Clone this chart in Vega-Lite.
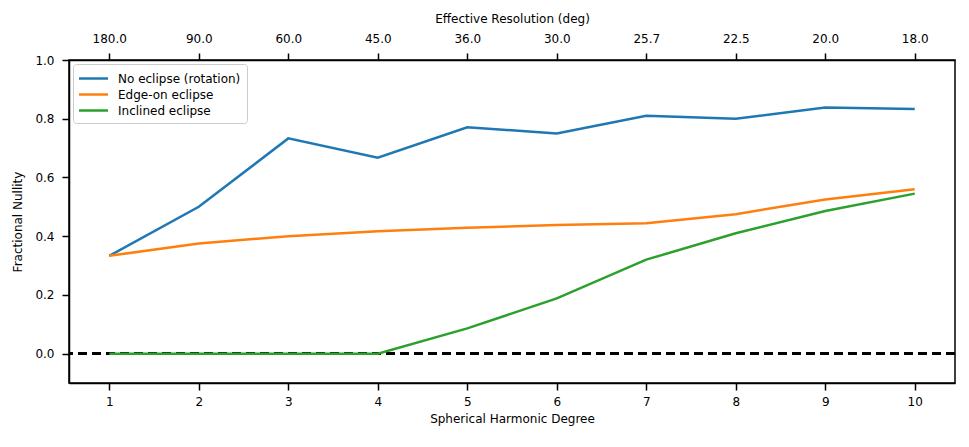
{
  "$schema": "https://vega.github.io/schema/vega-lite/v6.json",
  "width": 886,
  "height": 323,
  "autosize": "none",
  "padding": {"left": 69, "top": 60, "right": 14, "bottom": 64},
  "config": {
    "font": "DejaVu Sans",
    "view": {"stroke": "black", "strokeWidth": 1.5},
    "axis": {
      "labelFont": "DejaVu Sans", "titleFont": "DejaVu Sans",
      "labelFontSize": 12, "titleFontSize": 12, "titleFontWeight": "normal",
      "labelColor": "black", "titleColor": "black",
      "domainColor": "black", "domainWidth": 1.5,
      "tickColor": "black", "tickWidth": 1.5, "tickSize": 7,
      "grid": false, "labelPadding": 5
    }
  },
  "data": {
    "values": [
      {"degree": 1, "series": "No eclipse (rotation)", "nullity": 0.333},
      {"degree": 2, "series": "No eclipse (rotation)", "nullity": 0.5},
      {"degree": 3, "series": "No eclipse (rotation)", "nullity": 0.733},
      {"degree": 4, "series": "No eclipse (rotation)", "nullity": 0.667},
      {"degree": 5, "series": "No eclipse (rotation)", "nullity": 0.771},
      {"degree": 6, "series": "No eclipse (rotation)", "nullity": 0.75},
      {"degree": 7, "series": "No eclipse (rotation)", "nullity": 0.81},
      {"degree": 8, "series": "No eclipse (rotation)", "nullity": 0.8},
      {"degree": 9, "series": "No eclipse (rotation)", "nullity": 0.838},
      {"degree": 10, "series": "No eclipse (rotation)", "nullity": 0.833},
      {"degree": 1, "series": "Edge-on eclipse", "nullity": 0.333},
      {"degree": 2, "series": "Edge-on eclipse", "nullity": 0.375},
      {"degree": 3, "series": "Edge-on eclipse", "nullity": 0.4},
      {"degree": 4, "series": "Edge-on eclipse", "nullity": 0.417},
      {"degree": 5, "series": "Edge-on eclipse", "nullity": 0.429},
      {"degree": 6, "series": "Edge-on eclipse", "nullity": 0.438},
      {"degree": 7, "series": "Edge-on eclipse", "nullity": 0.444},
      {"degree": 8, "series": "Edge-on eclipse", "nullity": 0.475},
      {"degree": 9, "series": "Edge-on eclipse", "nullity": 0.525},
      {"degree": 10, "series": "Edge-on eclipse", "nullity": 0.56},
      {"degree": 1, "series": "Inclined eclipse", "nullity": 0},
      {"degree": 2, "series": "Inclined eclipse", "nullity": 0},
      {"degree": 3, "series": "Inclined eclipse", "nullity": 0},
      {"degree": 4, "series": "Inclined eclipse", "nullity": 0},
      {"degree": 5, "series": "Inclined eclipse", "nullity": 0.086},
      {"degree": 6, "series": "Inclined eclipse", "nullity": 0.188},
      {"degree": 7, "series": "Inclined eclipse", "nullity": 0.32},
      {"degree": 8, "series": "Inclined eclipse", "nullity": 0.41},
      {"degree": 9, "series": "Inclined eclipse", "nullity": 0.486},
      {"degree": 10, "series": "Inclined eclipse", "nullity": 0.545}
    ]
  },
  "layer": [
    {
      "mark": {"type": "rule", "color": "black", "strokeWidth": 2.5, "strokeDash": [9, 5]},
      "encoding": {"y": {"datum": 0, "type": "quantitative", "scale": {"domain": [-0.1, 1.0]}}}
    },
    {
      "mark": {"type": "line", "strokeWidth": 2.5, "clip": true},
      "encoding": {
        "x": {
          "field": "degree", "type": "quantitative",
          "scale": {"domain": [0.55, 10.45], "nice": false, "zero": false},
          "axis": {"values": [1,2,3,4,5,6,7,8,9,10], "title": "Spherical Harmonic Degree", "titlePadding": 6, "labelPadding": 6}
        },
        "y": {
          "field": "nullity", "type": "quantitative",
          "scale": {"domain": [-0.1, 1.0], "nice": false},
          "axis": {"values": [0, 0.2, 0.4, 0.6, 0.8, 1.0], "format": ".1f", "title": "Fractional Nullity", "titlePadding": 10, "labelPadding": 8}
        },
        "color": {
          "field": "series", "type": "nominal",
          "scale": {
            "domain": ["No eclipse (rotation)", "Edge-on eclipse", "Inclined eclipse"],
            "range": ["#1f77b4", "#ff7f0e", "#2ca02c"]
          },
          "legend": {
            "title": null, "orient": "top-left", "offset": 4,
            "symbolType": "M-2,0H2", "symbolStrokeWidth": 2.5, "symbolSize": 210,
            "symbolOffset": 6,
            "labelFont": "DejaVu Sans", "labelFontSize": 12, "labelColor": "black",
            "labelOffset": 16,
            "strokeColor": "#cccccc", "fillColor": "white", "padding": 6, "cornerRadius": 3,
            "rowPadding": 1
          }
        }
      }
    },
    {
      "mark": {"type": "point", "opacity": 0},
      "encoding": {
        "x": {
          "field": "degree", "type": "quantitative",
          "scale": {"domain": [0.55, 10.45], "nice": false, "zero": false},
          "axis": {
            "orient": "top", "values": [1,2,3,4,5,6,7,8,9,10],
            "labelExpr": "format(180 / datum.value, '.1f')",
            "title": "Effective Resolution (deg)", "titlePadding": 7, "labelPadding": 8
          }
        },
        "y": {"field": "nullity", "type": "quantitative"}
      }
    }
  ],
  "resolve": {"scale": {"x": "independent"}}
}
